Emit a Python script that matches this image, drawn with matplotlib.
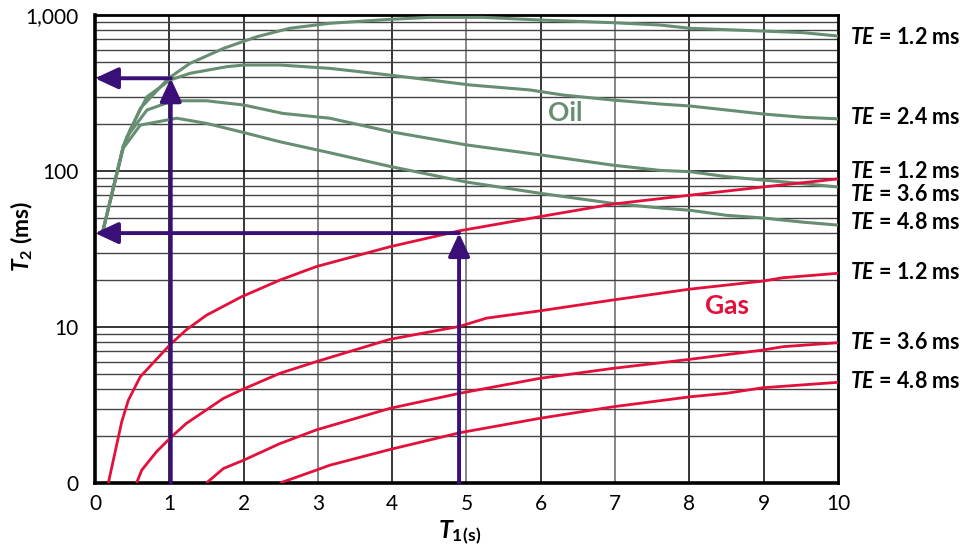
import numpy as np
import matplotlib
matplotlib.use("Agg")
import matplotlib.pyplot as plt
from matplotlib.ticker import LogLocator, NullFormatter

plt.rcParams['font.family'] = ['Lato', 'DejaVu Sans']
plt.rcParams['mathtext.fontset'] = 'custom'
plt.rcParams['mathtext.it'] = 'Lato:bold:italic'
plt.rcParams['mathtext.rm'] = 'Lato:bold'
plt.rcParams['mathtext.bf'] = 'Lato:bold'

# ---- Oil curves (T1 in s, T2 in ms) ----
oil_te12_x = [0.10, 0.38, 0.61, 0.99, 1.28, 1.73, 2.18, 2.62, 3.16, 3.97, 4.51, 5.22, 5.99, 6.97, 7.6, 8.01, 8.99, 9.53, 10.0]
oil_te12_y = [40, 143, 252, 393, 490, 611, 726, 822, 885, 938, 966, 966, 929, 893, 863, 822, 789, 771, 733]

oil_te24_x = [0.10, 0.38, 0.47, 0.70, 1.01, 1.28, 1.77, 2.00, 2.49, 3.16, 3.97, 4.51, 5.05, 5.85, 6.30, 6.97, 7.6, 8.01, 8.99, 9.53, 10.0]
oil_te24_y = [40, 143, 183, 299, 383, 423, 466, 478, 478, 455, 412, 383, 356, 331, 307, 285, 269, 261, 232, 221, 216]

oil_te36_x = [0.10, 0.38, 0.43, 0.70, 1.05, 1.50, 2.00, 2.53, 3.16, 3.97, 5.00, 5.99, 6.97, 7.6, 8.01, 8.50, 8.99, 9.53, 10.0]
oil_te36_y = [40, 143, 166, 246, 282, 282, 265, 234, 218, 179, 147, 127, 109, 101, 99, 92, 87.5, 83, 79]

oil_te48_x = [0.10, 0.38, 0.61, 1.10, 1.50, 1.95, 2.49, 3.16, 3.97, 5.00, 5.99, 6.97, 7.6, 8.01, 8.50, 8.99, 9.53, 10.0]
oil_te48_y = [40, 140, 197, 218, 202, 179, 154, 131, 107, 85, 72, 62, 58, 56, 52, 50, 47, 45]

# ---- Gas curves ----
gas_a_x = [0.18, 0.36, 0.45, 0.61, 1.01, 1.23, 1.50, 1.97, 2.49, 2.98, 3.97, 4.91, 5.99, 6.97, 8.01, 8.99, 10.0]
gas_a_y = [1.0, 2.47, 3.4, 4.8, 7.7, 9.6, 11.9, 15.6, 20.0, 24.4, 32.7, 41.4, 51, 61.4, 70, 79, 89]

gas_b_x = [0.56, 0.63, 0.83, 1.03, 1.23, 1.73, 1.97, 2.49, 2.98, 3.97, 4.91, 5.27, 5.99, 6.97, 8.01, 8.99, 9.26, 10.0]
gas_b_y = [1.0, 1.21, 1.59, 1.98, 2.41, 3.49, 3.95, 5.05, 6.0, 8.34, 10.1, 11.4, 12.7, 14.9, 17.5, 19.7, 20.7, 22.1]

gas_c_x = [1.50, 1.73, 2.00, 2.49, 2.98, 3.97, 4.91, 5.99, 6.97, 8.01, 8.99, 9.26, 10.0]
gas_c_y = [1.0, 1.24, 1.40, 1.79, 2.19, 3.01, 3.76, 4.69, 5.43, 6.21, 7.12, 7.48, 7.93]

gas_d_x = [2.49, 2.98, 3.16, 3.97, 4.91, 5.99, 6.97, 8.01, 8.50, 8.99, 10.0]
gas_d_y = [1.0, 1.21, 1.30, 1.64, 2.10, 2.60, 3.08, 3.57, 3.76, 4.08, 4.42]

# right-hand labels and where they sit (T2 value)
te_labels = ['1.2', '2.4', '1.2', '3.6', '4.8', '1.2', '3.6', '4.8']
te_label_y = [713, 219, 98.6, 70.2, 47.1, 22.5, 7.9, 4.5]

# example readings (T1, T2)
read_t1 = [1.02, 4.90]
read_t2 = [393, 40]

y_ticks = [1, 10, 100, 1000]
y_tick_labels = ['0', '10', '100', '1,000']
x_ticks = list(range(0, 11))

green = '#688e72'
red = '#e2103a'
purple = '#3a1078'

fig = plt.figure(figsize=(9.68, 5.5), dpi=100)
ax = fig.add_axes([0.0981, 0.1218, 0.7676, 0.8509])
ax.set_yscale('log')
ax.set_xlim(0, 10)
ax.set_ylim(1, 1000)

# grid
ax.yaxis.set_minor_locator(LogLocator(base=10, subs=np.arange(2, 10)))
ax.yaxis.set_minor_formatter(NullFormatter())
ax.grid(True, which='major', axis='y', color='black', lw=1.1)
ax.grid(True, which='minor', axis='y', color='#444444', lw=1.0)
for xv in x_ticks[1:-1]:
    ax.axvline(xv, color='#666666' if xv in (3, 5, 7) else 'black', lw=1.1, zorder=0.5)

for xs, ys in [(oil_te12_x, oil_te12_y), (oil_te24_x, oil_te24_y),
               (oil_te36_x, oil_te36_y), (oil_te48_x, oil_te48_y)]:
    ax.plot(xs, ys, color=green, lw=2.2, zorder=3, solid_capstyle='butt')
for xs, ys in [(gas_a_x, gas_a_y), (gas_b_x, gas_b_y),
               (gas_c_x, gas_c_y), (gas_d_x, gas_d_y)]:
    ax.plot(xs, ys, color=red, lw=2.0, zorder=3, solid_capstyle='butt')

# reading arrows
astyle = dict(arrowstyle='-|>,head_length=1.4,head_width=0.65', color=purple,
              lw=2.8, mutation_scale=10, shrinkA=0, shrinkB=0)
for t1, t2 in zip(read_t1, read_t2):
    ax.annotate('', xy=(t1, t2), xytext=(t1, 1), arrowprops=astyle,
                zorder=5, annotation_clip=False)
    ax.annotate('', xy=(0, t2), xytext=(t1, t2), arrowprops=astyle,
                zorder=5, annotation_clip=False)

ax.text(6.33, 235, 'Oil', color=green, fontsize=19, fontweight='bold',
        ha='center', va='center')
ax.text(8.5, 13.6, 'Gas', color=red, fontsize=19, fontweight='bold',
        ha='center', va='center')

trans = ax.get_yaxis_transform()
for lab, yv in zip(te_labels, te_label_y):
    ax.text(1.016, yv, r'$TE$ = ' + lab + ' ms', transform=trans,
            fontsize=15.5, fontweight='bold', ha='left', va='center', clip_on=False)

ax.set_xticks(x_ticks)
ax.set_yticks(y_ticks)
ax.set_yticklabels(y_tick_labels)
ax.tick_params(axis='both', which='both', length=0, labelsize=15)
ax.tick_params(axis='y', pad=12)
ax.tick_params(axis='x', pad=8)

for side in ['left', 'bottom']:
    ax.spines[side].set_linewidth(2.6)
for side in ['top', 'right']:
    ax.spines[side].set_linewidth(2.0)

fig.text(22 / 968, 1 - 236 / 550, r'$T_2$ (ms)', rotation=90, fontsize=16.5,
         fontweight='bold', ha='center', va='center')
fig.text(460 / 968, 1 - 533 / 550, r'$T_{1}$$_{(\mathrm{s})}$', fontsize=18,
         ha='center', va='center')

fig.savefig('out.png', dpi=100)
